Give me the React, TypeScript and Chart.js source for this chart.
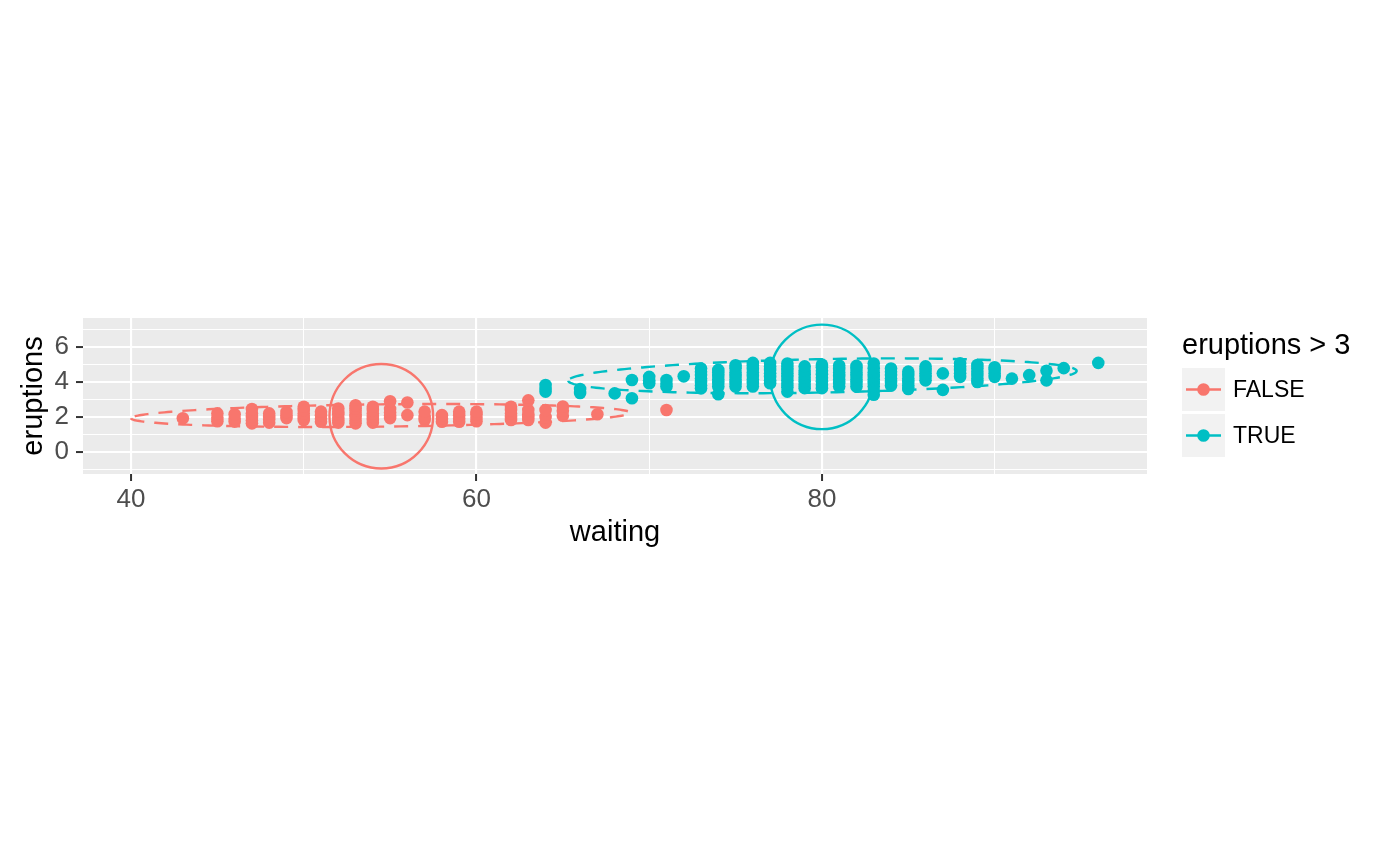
import React, { useEffect, useRef } from "react";
import { Chart, registerables } from "chart.js";

Chart.register(...registerables);

const FONT = "'Liberation Sans', Arial, Helvetica, sans-serif";
const RED = "#F8766D";
const TEAL = "#00BFC4";

// eruptions <= 3 (FALSE): waiting columns and the eruptions values seen in each column
const falseWaiting = [43, 45, 46, 47, 48, 49, 50, 51, 52, 53, 54, 55, 56, 57, 58, 59, 60, 62, 63, 64, 65, 67, 71];
const falseEruptions = [
  [1.92],
  [1.75, 1.95, 2.2],
  [1.73, 1.9, 2.15],
  [1.63, 1.8, 2.0, 2.2, 2.45],
  [1.67, 1.85, 2.0, 2.2],
  [1.93, 2.1, 2.28],
  [1.82, 2.0, 2.2, 2.4, 2.58],
  [1.72, 1.9, 2.1, 2.3],
  [1.67, 1.8, 1.95, 2.15, 2.3, 2.48],
  [1.63, 1.8, 2.0, 2.15, 2.35, 2.5, 2.67],
  [1.67, 1.83, 2.0, 2.2, 2.4, 2.58],
  [1.93, 2.08, 2.25, 2.45, 2.9],
  [2.1, 2.83],
  [1.82, 2.0, 2.3],
  [1.72, 1.9, 2.1],
  [1.72, 1.9, 2.1, 2.3],
  [1.75, 1.95, 2.15, 2.3],
  [1.82, 2.0, 2.2, 2.4, 2.58],
  [1.82, 2.0, 2.15, 2.4, 2.95],
  [1.67, 2.0, 2.4],
  [2.07, 2.35, 2.6],
  [2.15],
  [2.4],
];

// eruptions > 3 (TRUE)
const trueWaiting = [64, 66, 68, 69, 70, 71, 72, 73, 74, 75, 76, 77, 78, 79, 80, 81, 82, 83, 84, 85, 86, 87, 88, 89, 90, 91, 92, 93, 94, 96];
const trueEruptions = [
  [3.45, 3.6, 3.83],
  [3.37, 3.6],
  [3.35],
  [3.07, 4.12],
  [3.93, 4.1, 4.3],
  [3.74, 3.9, 4.12],
  [4.33],
  [3.64, 3.8, 4.0, 4.2, 4.4, 4.6, 4.78],
  [3.3, 3.75, 3.95, 4.15, 4.35, 4.55, 4.7],
  [3.75, 3.95, 4.15, 4.35, 4.55, 4.8, 4.97],
  [3.75, 3.95, 4.15, 4.35, 4.55, 4.75, 4.95, 5.1],
  [3.93, 4.1, 4.3, 4.5, 4.7, 4.9, 5.1],
  [3.45, 3.7, 3.9, 4.1, 4.3, 4.5, 4.7, 4.9, 5.07],
  [3.65, 3.85, 4.05, 4.25, 4.45, 4.65, 4.9],
  [3.65, 3.85, 4.05, 4.25, 4.45, 4.65, 4.85, 5.0],
  [3.74, 3.95, 4.15, 4.35, 4.55, 4.75, 4.95],
  [3.75, 3.95, 4.15, 4.35, 4.55, 4.75, 4.93],
  [3.27, 3.5, 3.75, 3.95, 4.15, 4.35, 4.55, 4.8, 5.07],
  [3.8, 4.0, 4.2, 4.4, 4.6, 4.78],
  [3.6, 3.8, 4.0, 4.2, 4.4, 4.6],
  [4.1, 4.3, 4.5, 4.7, 4.9],
  [3.55, 4.5],
  [4.3, 4.5, 4.7, 4.9, 5.08],
  [4.0, 4.2, 4.4, 4.6, 4.8, 4.98],
  [4.3, 4.5, 4.7, 4.85],
  [4.2],
  [4.4],
  [4.1, 4.65],
  [4.8],
  [5.1],
];

// group means (circle centres) and circle radius in data units
const circleX = [54.49, 80.0];
const circleY = [2.04, 4.3];
const circleRadius = 3;

// dashed data ellipses: centre, semi-axes, slope angle (data units)
const ellipseX = [54.45, 80.03];
const ellipseY = [2.08, 4.36];
const ellipseMajor = [14.45, 14.72];
const ellipseMinor = [0.64, 0.96];
const ellipseSlope = [0.011, 0.019];

const groupColors = [RED, TEAL];
const legendTitle = "eruptions > 3";
const legendLabels = ["FALSE", "TRUE"];

const xMajorTicks = [40, 60, 80];
const xMinorTicks = [50, 70, 90];
const yMajorTicks = [0, 2, 4, 6];
const yMinorTicks = [-1, 1, 3, 5, 7];
const xLimits = [37.22, 98.82];
const yLimits = [-1.28, 7.68];

const xTitle = "waiting";
const yTitle = "eruptions";

function toPoints(ws: number[], es: number[][]) {
  const pts: { x: number; y: number }[] = [];
  ws.forEach((w, i) => es[i].forEach((e) => pts.push({ x: w, y: e })));
  return pts;
}

const ggPlugin = {
  id: "ggDecor",
  beforeDraw(chart: any) {
    const { ctx, chartArea: a } = chart;
    ctx.save();
    ctx.fillStyle = "#EBEBEB";
    ctx.fillRect(a.left, a.top, a.right - a.left, a.bottom - a.top);
    ctx.restore();
  },
  afterDatasetsDraw(chart: any) {
    const { ctx, chartArea: a } = chart;
    const xs = chart.scales.x;
    const ys = chart.scales.y;
    ctx.save();
    ctx.beginPath();
    ctx.rect(a.left, a.top, a.right - a.left, a.bottom - a.top);
    ctx.clip();
    // circles
    for (let g = 0; g < 2; g++) {
      const cx = xs.getPixelForValue(circleX[g]);
      const cy = ys.getPixelForValue(circleY[g]);
      const rx = Math.abs(xs.getPixelForValue(circleX[g] + circleRadius) - cx);
      const ry = Math.abs(ys.getPixelForValue(circleY[g] + circleRadius) - cy);
      ctx.beginPath();
      ctx.ellipse(cx, cy, rx, ry, 0, 0, Math.PI * 2);
      ctx.strokeStyle = groupColors[g];
      ctx.lineWidth = 2.4;
      ctx.setLineDash([]);
      ctx.stroke();
    }
    // dashed ellipses
    for (let g = 0; g < 2; g++) {
      const th = Math.atan(ellipseSlope[g]);
      const c = Math.cos(th);
      const s = Math.sin(th);
      ctx.beginPath();
      const N = 240;
      for (let i = 0; i <= N; i++) {
        const t = Math.PI + (i / N) * Math.PI * 2;
        const dx = ellipseMajor[g] * Math.cos(t);
        const dy = ellipseMinor[g] * Math.sin(t);
        const px = xs.getPixelForValue(ellipseX[g] + dx * c - dy * s);
        const py = ys.getPixelForValue(ellipseY[g] + dx * s + dy * c);
        if (i === 0) ctx.moveTo(px, py);
        else ctx.lineTo(px, py);
      }
      ctx.strokeStyle = groupColors[g];
      ctx.lineWidth = 2.4;
      ctx.setLineDash([14, 10]);
      ctx.stroke();
    }
    ctx.restore();
  },
  afterDraw(chart: any) {
    const { ctx } = chart;
    ctx.save();
    ctx.fillStyle = "#000000";
    ctx.font = `29px ${FONT}`;
    ctx.textBaseline = "middle";
    ctx.textAlign = "left";
    ctx.fillText(legendTitle, 1182, 346);
    for (let g = 0; g < 2; g++) {
      const top = 368 + g * 46;
      ctx.fillStyle = "#F2F2F2";
      ctx.fillRect(1182, top, 43, 43);
      const cy = top + 21.5;
      ctx.strokeStyle = groupColors[g];
      ctx.lineWidth = 2.6;
      ctx.setLineDash([]);
      ctx.beginPath();
      ctx.moveTo(1186, cy);
      ctx.lineTo(1221, cy);
      ctx.stroke();
      ctx.fillStyle = groupColors[g];
      ctx.beginPath();
      ctx.arc(1203.5, cy, 6.3, 0, Math.PI * 2);
      ctx.fill();
      ctx.fillStyle = "#000000";
      ctx.font = `23px ${FONT}`;
      ctx.fillText(legendLabels[g], 1233, cy + 1);
    }
    ctx.restore();
  },
};

function gridFor(major: number[]) {
  const isMajor = (c: any) => c.tick && major.includes(c.tick.value);
  return {
    color: "#FFFFFF",
    lineWidth: (c: any) => (isMajor(c) ? 2.1 : 1.05),
    drawTicks: true,
    tickLength: 7,
    tickWidth: 2,
    tickColor: (c: any) => (isMajor(c) ? "#333333" : "rgba(0,0,0,0)"),
  };
}

export default function App() {
  const ref = useRef<HTMLCanvasElement | null>(null);
  useEffect(() => {
    document.body.style.margin = "0";
    const canvas = ref.current;
    if (!canvas) return;
    const xTicks = [...xMajorTicks, ...xMinorTicks].sort((a, b) => a - b);
    const yTicks = [...yMajorTicks, ...yMinorTicks].sort((a, b) => a - b);
    const chart = new Chart(canvas, {
      type: "scatter",
      data: {
        datasets: [
          {
            label: legendLabels[0],
            data: toPoints(falseWaiting, falseEruptions),
            backgroundColor: RED,
            borderWidth: 0,
            pointRadius: 6.3,
          },
          {
            label: legendLabels[1],
            data: toPoints(trueWaiting, trueEruptions),
            backgroundColor: TEAL,
            borderWidth: 0,
            pointRadius: 6.3,
          },
        ],
      },
      options: {
        animation: false,
        responsive: false,
        devicePixelRatio: 1,
        layout: { padding: { left: 0, right: 253, top: 318, bottom: 316 } },
        plugins: { legend: { display: false }, tooltip: { enabled: false } },
        scales: {
          x: {
            type: "linear",
            min: xLimits[0],
            max: xLimits[1],
            afterBuildTicks: (s: any) => {
              s.ticks = xTicks.map((v) => ({ value: v }));
            },
            afterFit: (s: any) => {
              s.height = 76;
            },
            grid: gridFor(xMajorTicks) as any,
            border: { display: false },
            ticks: {
              autoSkip: false,
              maxRotation: 0,
              padding: 3,
              color: "#4D4D4D",
              font: { family: FONT, size: 26 },
              callback: (v: any) => (xMajorTicks.includes(v) ? String(v) : ""),
            },
            title: {
              display: true,
              text: xTitle,
              color: "#000000",
              font: { family: FONT, size: 29 },
              padding: { top: 0, bottom: 0 },
            },
          },
          y: {
            type: "linear",
            min: yLimits[0],
            max: yLimits[1],
            afterBuildTicks: (s: any) => {
              s.ticks = yTicks.map((v) => ({ value: v }));
            },
            afterFit: (s: any) => {
              s.width = 83;
            },
            grid: gridFor(yMajorTicks) as any,
            border: { display: false },
            ticks: {
              autoSkip: false,
              padding: 7,
              color: "#4D4D4D",
              font: { family: FONT, size: 26 },
              callback: (v: any) => (yMajorTicks.includes(v) ? String(v) : ""),
            },
            title: {
              display: true,
              text: yTitle,
              color: "#000000",
              font: { family: FONT, size: 29 },
              padding: { top: 17, bottom: 0 },
            },
          },
        },
      },
      plugins: [ggPlugin],
    } as any);
    return () => chart.destroy();
  }, []);
  return (
    <div style={{ width: 1400, height: 866, position: "relative", background: "#FFFFFF" }}>
      <canvas ref={ref} width={1400} height={866} style={{ width: 1400, height: 866, display: "block" }} />
    </div>
  );
}
